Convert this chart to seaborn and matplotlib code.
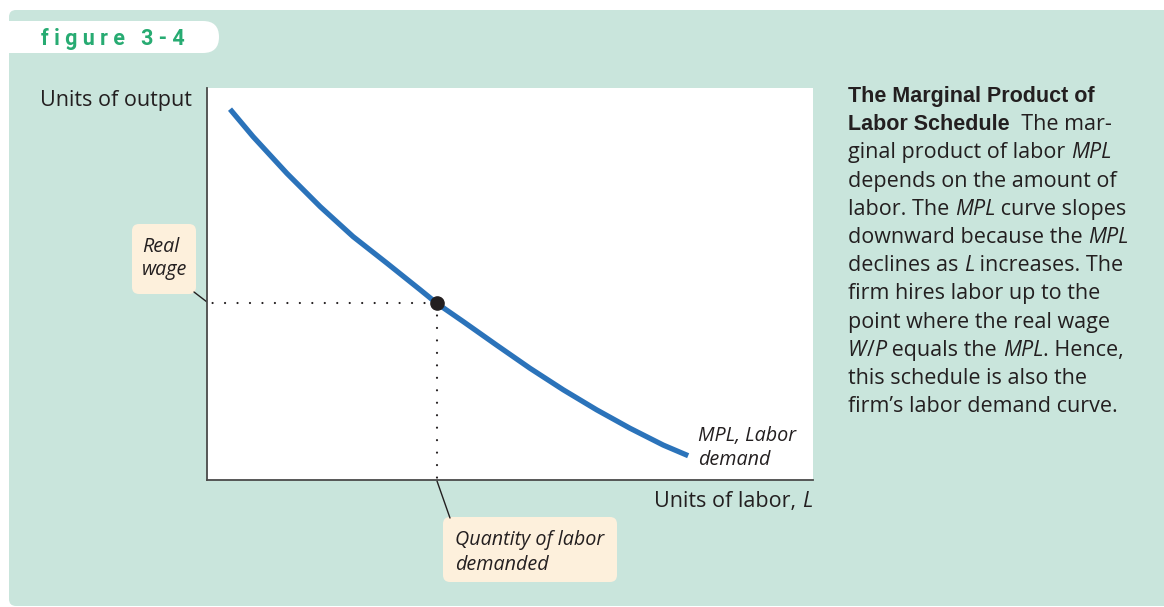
import seaborn as sns
import matplotlib.pyplot as plt
from matplotlib.patches import FancyBboxPatch

W, H = 1164, 607

# curve (labor, marginal product)
labor = [0.38, 0.76, 1.32, 1.87, 2.41, 2.97, 3.52, 3.79, 4.23, 4.78,
         5.33, 5.88, 6.43, 6.98, 7.53, 7.94]
mpl = [9.46, 8.76, 7.82, 6.97, 6.21, 5.53, 4.85, 4.51, 4.04, 3.44,
       2.85, 2.30, 1.79, 1.32, 0.89, 0.62]
L_STAR = 3.79
W_STAR = 4.51

caption = [
    [("The Marginal Product of", "b")],
    [("Labor Schedule", "b"), ("  The mar-", "r")],
    [("ginal product of labor ", "r"), ("MPL", "i")],
    [("depends on the amount of", "r")],
    [("labor. The ", "r"), ("MPL", "i"), (" curve slopes", "r")],
    [("downward because the ", "r"), ("MPL", "i")],
    [("declines as ", "r"), ("L", "i"), (" increases. The", "r")],
    [("firm hires labor up to the", "r")],
    [("point where the real wage", "r")],
    [("W", "i"), ("/", "r"), ("P", "i"), (" equals the ", "r"), ("MPL", "i"), (". Hence,", "r")],
    [("this schedule is also the", "r")],
    [("firm\u2019s labor demand curve.", "r")],
]

GREEN = "#c9e5dc"
CREAM = "#fdf0dc"
INK = "#231f20"
BLUE = "#2b73ba"
SANS = "Open Sans"

sns.set_theme(style="white")
plt.rcParams["font.family"] = [SANS, "DejaVu Sans"]

fig = plt.figure(figsize=(W / 100, H / 100), dpi=100)
fig.patch.set_facecolor("white")


def pixel_axes(z):
    a = fig.add_axes([0, 0, 1, 1], zorder=z)
    a.set_xlim(0, W)
    a.set_ylim(H, 0)
    a.axis("off")
    return a


# background layer and overlay layer, both in pixel units (y down)
bg = pixel_axes(0)
fg = pixel_axes(2)

styles = {
    "b": dict(family="Liberation Sans", fontweight="bold", fontsize=15.5),
    "r": dict(family=SANS, fontsize=15.5),
    "i": dict(family=SANS, style="italic", fontsize=15.5),
    "ci": dict(family=SANS, style="italic", fontsize=14.2),
}
renderer = fig.canvas.get_renderer()


def runs(x, y, parts, align="left", layer=None):
    layer = layer or bg
    texts = [layer.text(x, y, txt, color=INK, va="baseline", ha="left", **styles[st])
             for txt, st in parts]
    widths = [t.get_window_extent(renderer).width for t in texts]
    if align == "right":
        x -= sum(widths)
    for t, w in zip(texts, widths):
        t.set_x(x)
        x += w


def box(x0, y0, x1, y1, color, r):
    bg.add_patch(FancyBboxPatch((x0, y0), x1 - x0, y1 - y0,
                                boxstyle=f"round,pad=0,rounding_size={r}",
                                fc=color, ec="none"))


# green panel and white tab
box(9, 10, 1190, 606, GREEN, 7)
box(-40, 21, 219, 53, "white", 16)
bg.text(41, 45, "f i g u r e   3 - 4", color="#27ab72", fontsize=15.5,
        fontweight="bold", family="Roboto", va="baseline", ha="left")

# plot area
ax = fig.add_axes([207 / W, 1 - 480 / H, (813 - 207) / W, (480 - 88) / H], zorder=1)
ax.set_facecolor("white")
ax.set_xlim(0, 10)
ax.set_ylim(0, 10)
ax.set_xticks([])
ax.set_yticks([])
for s in ["top", "right"]:
    ax.spines[s].set_visible(False)
for s in ["left", "bottom"]:
    ax.spines[s].set_color("#4a4a4a")
    ax.spines[s].set_linewidth(1.3)

sns.lineplot(x=labor, y=mpl, ax=ax, sort=False, color=BLUE, linewidth=3.8,
             solid_capstyle="butt", solid_joinstyle="round")

# dotted guides start at the point so the dots line up with it
dots = dict(color=INK, linewidth=1.6, linestyle=(0, (0.01, 5.6)),
            dash_capstyle="round")
ax.plot([L_STAR, 0], [W_STAR, W_STAR], **dots)
ax.plot([L_STAR, L_STAR], [W_STAR, 0], **dots)
ax.plot([L_STAR], [W_STAR], "o", color=INK, markersize=9.5, zorder=5)

# curve label sits over the white plot area
runs(698, 441, [("MPL, Labor", "ci")], layer=fg)
runs(698, 465, [("demand", "ci")], layer=fg)

# axis titles
runs(40, 106, [("Units of output", "r")])
runs(812, 507, [("Units of labor, ", "r"), ("L", "i")], align="right")

# callout boxes
box(132, 224, 196, 294, CREAM, 7)
runs(142, 252, [("Real", "ci")])
runs(142, 275, [("wage", "ci")])
bg.plot([194, 207], [292, 302], color=INK, linewidth=1.0)

box(443, 517, 617, 582, CREAM, 7)
runs(455, 545, [("Quantity of labor", "ci")])
runs(455, 570, [("demanded", "ci")])
bg.plot([437, 450], [481, 518], color=INK, linewidth=1.0)

# caption with mixed styles
for i, line in enumerate(caption):
    runs(848, 102 + i * 28.2, line)

fig.savefig("out.png", dpi=100, facecolor="white")
